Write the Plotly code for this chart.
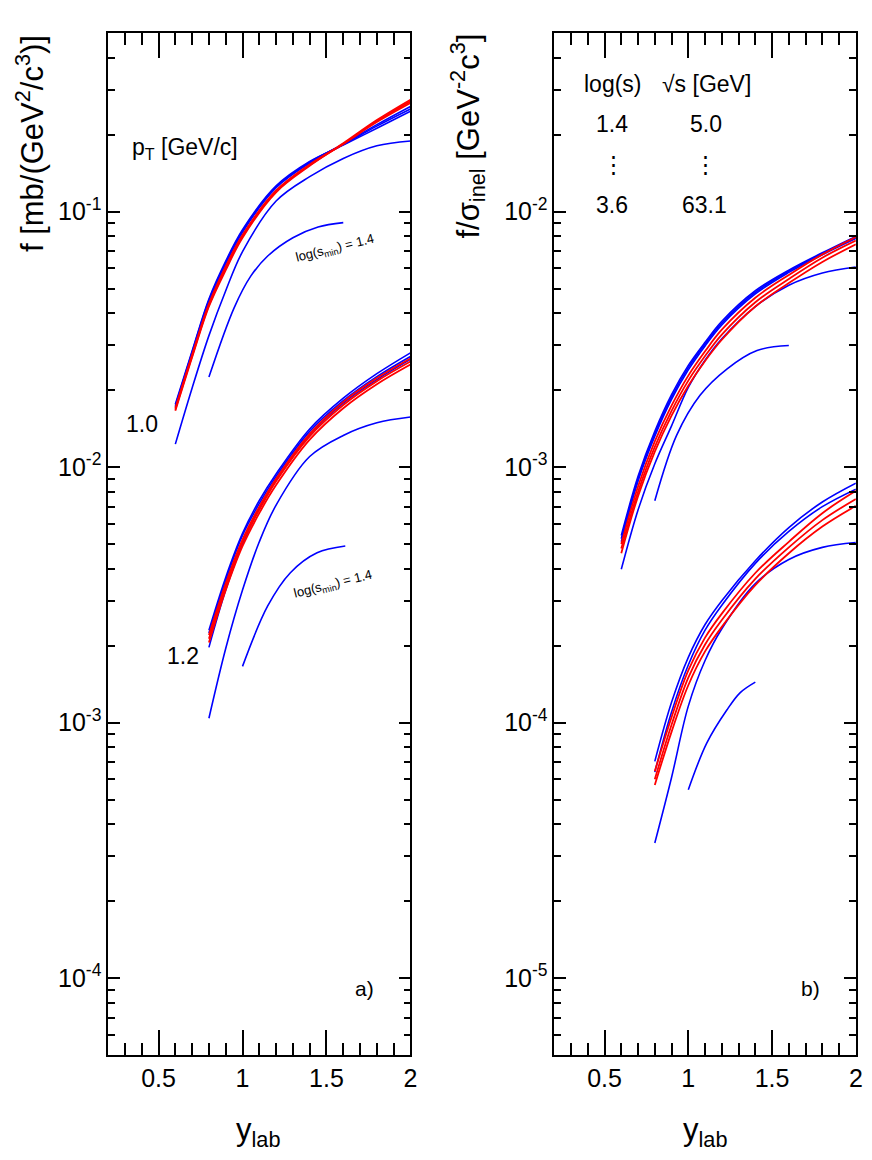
import numpy as np
import plotly.graph_objects as go

# ---- panel a): f [mb/(GeV^2/c^3)] vs y_lab ----
# pT = 1.0 GeV/c
YLAB_A10 = [0.6, 0.7, 0.8, 0.9, 1.0, 1.2, 1.4, 1.6, 1.8, 2.0]
F_A10_BLUE = [
    [0.0176, 0.0285, 0.0455, 0.064, 0.085, 0.126, 0.157, 0.182, 0.212, 0.247],
    [0.0174, 0.0282, 0.0450, 0.063, 0.084, 0.125, 0.156, 0.183, 0.216, 0.252],
    [0.0172, 0.0279, 0.0445, 0.0625, 0.083, 0.124, 0.155, 0.184, 0.219, 0.258],
]
F_A10_RED = [
    [0.0170, 0.0275, 0.0435, 0.061, 0.081, 0.121, 0.153, 0.184, 0.224, 0.266],
    [0.0168, 0.0272, 0.0430, 0.060, 0.080, 0.120, 0.152, 0.184, 0.226, 0.270],
    [0.0166, 0.0269, 0.0425, 0.059, 0.079, 0.119, 0.151, 0.185, 0.228, 0.274],
]
F_A10_LOW = [0.0123, 0.0204, 0.0327, 0.049, 0.0697, 0.110, 0.137, 0.1615, 0.181, 0.189]
YLAB_A10_SMIN = [0.8, 0.95, 1.05, 1.15, 1.3, 1.45, 1.6]
F_A10_SMIN = [0.0225, 0.042, 0.056, 0.067, 0.079, 0.087, 0.0905]

# pT = 1.2 GeV/c
YLAB_A12 = [0.8, 0.9, 1.0, 1.1, 1.2, 1.4, 1.6, 1.8, 2.0]
F_A12_BLUE = [
    [0.00230, 0.0037, 0.0055, 0.0074, 0.0094, 0.0141, 0.0186, 0.0232, 0.0280],
    [0.00224, 0.0036, 0.0054, 0.0072, 0.0092, 0.0138, 0.0182, 0.0226, 0.0271],
    [0.00197, 0.0033, 0.0050, 0.0069, 0.0089, 0.0134, 0.0178, 0.0220, 0.0264],
]
F_A12_RED = [
    [0.00220, 0.0035, 0.0052, 0.0070, 0.0090, 0.0135, 0.0180, 0.0223, 0.0266],
    [0.00213, 0.0034, 0.0051, 0.0068, 0.0088, 0.0132, 0.0175, 0.0217, 0.0259],
    [0.00206, 0.0033, 0.0049, 0.0066, 0.0085, 0.0128, 0.0170, 0.0211, 0.0252],
]
F_A12_LOW = [0.00104, 0.00195, 0.0033, 0.0051, 0.0071, 0.0110, 0.0133, 0.0149, 0.0157]
YLAB_A12_SMIN = [1.0, 1.15, 1.285, 1.444, 1.612]
F_A12_SMIN = [0.00166, 0.00286, 0.00386, 0.00462, 0.00491]

# ---- panel b): f/sigma_inel [GeV^-2 c^3] vs y_lab ----
# pT = 1.0 GeV/c
YLAB_B10 = [0.6, 0.7, 0.8, 0.9, 1.0, 1.1, 1.2, 1.4, 1.6, 1.8, 2.0]
F_B10_BLUE = [
    [5.40e-4, 9.2e-4, 1.38e-3, 1.92e-3, 2.50e-3, 3.08e-3, 3.72e-3, 4.90e-3, 5.90e-3, 6.90e-3, 8.00e-3],
    [5.25e-4, 9.0e-4, 1.35e-3, 1.88e-3, 2.45e-3, 3.03e-3, 3.66e-3, 4.83e-3, 5.85e-3, 6.85e-3, 7.90e-3],
    [5.10e-4, 8.8e-4, 1.32e-3, 1.84e-3, 2.40e-3, 2.98e-3, 3.60e-3, 4.76e-3, 5.78e-3, 6.78e-3, 7.85e-3],
]
F_B10_RED = [
    [5.0e-4, 8.4e-4, 1.26e-3, 1.74e-3, 2.28e-3, 2.84e-3, 3.45e-3, 4.60e-3, 5.65e-3, 6.80e-3, 7.95e-3],
    [4.8e-4, 8.0e-4, 1.20e-3, 1.66e-3, 2.18e-3, 2.72e-3, 3.30e-3, 4.42e-3, 5.45e-3, 6.60e-3, 7.70e-3],
    [4.6e-4, 7.7e-4, 1.15e-3, 1.59e-3, 2.08e-3, 2.60e-3, 3.15e-3, 4.25e-3, 5.25e-3, 6.35e-3, 7.45e-3],
]
F_B10_LOW = [3.98e-4, 6.8e-4, 1.03e-3, 1.45e-3, 2.05e-3, 2.62e-3, 3.18e-3, 4.25e-3, 5.15e-3, 5.75e-3, 6.07e-3]
YLAB_B10_SMIN = [0.8, 0.93, 1.07, 1.23, 1.41, 1.6]
F_B10_SMIN = [7.38e-4, 1.33e-3, 1.91e-3, 2.42e-3, 2.86e-3, 2.99e-3]

# pT = 1.2 GeV/c
YLAB_B12 = [0.8, 0.9, 1.0, 1.1, 1.2, 1.4, 1.6, 1.8, 2.0]
F_B12_BLUE = [
    [7.05e-5, 1.20e-4, 1.80e-4, 2.42e-4, 3.00e-4, 4.30e-4, 5.80e-4, 7.30e-4, 8.65e-4],
    [6.40e-5, 1.10e-4, 1.68e-4, 2.30e-4, 2.88e-4, 4.20e-4, 5.60e-4, 7.00e-4, 8.20e-4],
]
F_B12_RED = [
    [6.45e-5, 1.05e-4, 1.60e-4, 2.15e-4, 2.67e-4, 3.85e-4, 5.10e-4, 6.60e-4, 8.07e-4],
    [6.00e-5, 9.8e-5, 1.50e-4, 2.02e-4, 2.52e-4, 3.65e-4, 4.85e-4, 6.20e-4, 7.50e-4],
    [5.70e-5, 9.2e-5, 1.40e-4, 1.90e-4, 2.37e-4, 3.45e-4, 4.60e-4, 5.85e-4, 7.05e-4],
]
F_B12_LOW = [3.38e-5, 6.1e-5, 1.16e-4, 1.75e-4, 2.33e-4, 3.50e-4, 4.35e-4, 4.85e-4, 5.07e-4]
YLAB_B12_SMIN = [1.0, 1.11, 1.23, 1.31, 1.4]
F_B12_SMIN = [5.46e-5, 8.31e-5, 1.12e-4, 1.31e-4, 1.44e-4]

# tick labels
X_TICKS = [0.5, 1.0, 1.5, 2.0]
X_TICKTEXT = ["0.5", "1", "1.5", "2"]
A_YTICKS = [1e-4, 1e-3, 1e-2, 1e-1]
A_YTICKTEXT = ["10<sup>-4</sup>", "10<sup>-3</sup>", "10<sup>-2</sup>", "10<sup>-1</sup>"]
B_YTICKS = [1e-5, 1e-4, 1e-3, 1e-2]
B_YTICKTEXT = ["10<sup>-5</sup>", "10<sup>-4</sup>", "10<sup>-3</sup>", "10<sup>-2</sup>"]

BLUE = "#0000ff"
RED = "#ff0000"
FONT = "Liberation Sans, Arial, sans-serif"
# the page body keeps its 8px margin; size the figure so it fits the window
OFF = 8
W, H = 872 - 2 * OFF, 1160 - 2 * OFF
XSCALE = 880 / 872  # the shot comes out slightly squeezed sideways


def px(xp):
    return (xp * XSCALE - OFF) / W


def py(yp):
    return 1 - (yp - OFF) / H


def add_curves(fig, x, ys, color, xa, ya, width=1.6):
    for y in ys:
        fig.add_trace(go.Scatter(x=x, y=y, mode="lines", xaxis=xa, yaxis=ya,
                                 line=dict(color=color, width=width, shape="spline", smoothing=1.0),
                                 showlegend=False, hoverinfo="skip"))


fig = go.Figure()

# panel a)
add_curves(fig, YLAB_A10, F_A10_BLUE + [F_A10_LOW], BLUE, "x", "y")
add_curves(fig, YLAB_A10_SMIN, [F_A10_SMIN], BLUE, "x", "y")
add_curves(fig, YLAB_A10, F_A10_RED, RED, "x", "y", 1.8)
add_curves(fig, YLAB_A12, F_A12_BLUE + [F_A12_LOW], BLUE, "x", "y")
add_curves(fig, YLAB_A12_SMIN, [F_A12_SMIN], BLUE, "x", "y")
add_curves(fig, YLAB_A12, F_A12_RED, RED, "x", "y", 1.8)

# panel b)
add_curves(fig, YLAB_B10, F_B10_BLUE + [F_B10_LOW], BLUE, "x2", "y2")
add_curves(fig, YLAB_B10_SMIN, [F_B10_SMIN], BLUE, "x2", "y2")
add_curves(fig, YLAB_B10, F_B10_RED, RED, "x2", "y2", 1.8)
add_curves(fig, YLAB_B12, F_B12_BLUE + [F_B12_LOW], BLUE, "x2", "y2")
add_curves(fig, YLAB_B12_SMIN, [F_B12_SMIN], BLUE, "x2", "y2")
add_curves(fig, YLAB_B12, F_B12_RED, RED, "x2", "y2", 1.8)


def x_axis(domain, anchor):
    return dict(domain=domain, anchor=anchor, range=[0.2, 2.0],
                tickmode="array", tickvals=X_TICKS, ticktext=X_TICKTEXT,
                ticks="inside", ticklen=25, tickwidth=1.5, tickcolor="black",
                minor=dict(tickmode="linear", tick0=0, dtick=0.1, ticks="inside",
                           ticklen=12, tickwidth=1.5, tickcolor="black", showgrid=False),
                showline=True, linecolor="black", linewidth=1.5, mirror="ticks",
                showgrid=False, zeroline=False,
                tickfont=dict(size=25, color="black", family=FONT))


def y_axis(anchor, rng, tickvals, ticktext):
    lo, hi = int(np.floor(rng[0])), int(np.ceil(rng[1]))
    minor_vals = [k * 10.0 ** e for e in range(lo, hi) for k in range(2, 10)]
    return dict(domain=[py(1055), py(33)], anchor=anchor, type="log", range=rng,
                tickmode="array", tickvals=tickvals, ticktext=ticktext,
                ticks="inside", ticklen=12, tickwidth=1.5, tickcolor="black",
                minor=dict(tickmode="array", tickvals=minor_vals, ticks="inside",
                           ticklen=7, tickwidth=1.5, tickcolor="black", showgrid=False),
                showline=True, linecolor="black", linewidth=1.5, mirror="ticks",
                showgrid=False, zeroline=False,
                tickfont=dict(size=25, color="black", family=FONT))


fig.update_layout(
    width=W, height=H,
    margin=dict(l=0, r=0, t=0, b=0),
    paper_bgcolor="white", plot_bgcolor="white",
    font=dict(family=FONT, color="black"),
    xaxis=x_axis([px(108), px(410)], "y"),
    yaxis=y_axis("x", [np.log10(5e-5), np.log10(0.5)], A_YTICKS, A_YTICKTEXT),
    xaxis2=x_axis([px(553.7), px(855)], "y2"),
    yaxis2=y_axis("x2", [np.log10(5e-6), np.log10(0.05)], B_YTICKS, B_YTICKTEXT),
)

# axis titles
fig.add_annotation(text="f [mb/(GeV<sup>2</sup>/c<sup>3</sup>)]", xref="paper", yref="paper",
                   x=px(30), y=py(144), textangle=-90, showarrow=False,
                   xanchor="center", yanchor="middle", font=dict(size=31))
fig.add_annotation(text="f/σ<sub>inel</sub> [GeV<sup>-2</sup>c<sup>3</sup>]", xref="paper", yref="paper",
                   x=px(468), y=py(136), textangle=-90, showarrow=False,
                   xanchor="center", yanchor="middle", font=dict(size=31))
fig.add_annotation(text="y<sub>lab</sub>", xref="paper", yref="paper",
                   x=px(258), y=py(1132), showarrow=False,
                   xanchor="center", yanchor="middle", font=dict(size=31))
fig.add_annotation(text="y<sub>lab</sub>", xref="paper", yref="paper",
                   x=px(704), y=py(1132), showarrow=False,
                   xanchor="center", yanchor="middle", font=dict(size=31))

# panel a) labels (y in log10 units)
fig.add_annotation(text="p<sub>T</sub> [GeV/c]", xref="x", yref="y", x=0.331, y=-0.753,
                   xanchor="left", showarrow=False, font=dict(size=23))
fig.add_annotation(text="1.0", xref="x", yref="y", x=0.403, y=-1.831,
                   showarrow=False, font=dict(size=23))
fig.add_annotation(text="1.2", xref="x", yref="y", x=0.647, y=-2.741,
                   showarrow=False, font=dict(size=23))
fig.add_annotation(text="log(s<sub>min</sub>) = 1.4", xref="x", yref="y", x=1.553, y=-1.145,
                   textangle=-14, showarrow=False, font=dict(size=13))
fig.add_annotation(text="log(s<sub>min</sub>) = 1.4", xref="x", yref="y", x=1.541, y=-2.459,
                   textangle=-14, showarrow=False, font=dict(size=13))
fig.add_annotation(text="a)", xref="x", yref="y", x=1.726, y=-4.039,
                   showarrow=False, font=dict(size=21))

# panel b) labels
for txt, xv, yv in [("log(s)", 0.55, -1.502), ("√s [GeV]", 1.11, -1.502),
                    ("1.4", 0.545, -1.659), ("5.0", 1.105, -1.659),
                    ("⋮", 0.555, -1.812), ("⋮", 1.10, -1.812),
                    ("3.6", 0.545, -1.976), ("63.1", 1.095, -1.976)]:
    fig.add_annotation(text=txt, xref="x2", yref="y2", x=xv, y=yv,
                       showarrow=False, font=dict(size=23))
fig.add_annotation(text="b)", xref="x2", yref="y2", x=1.73, y=-5.039,
                   showarrow=False, font=dict(size=21))

fig.write_html("out.html")
